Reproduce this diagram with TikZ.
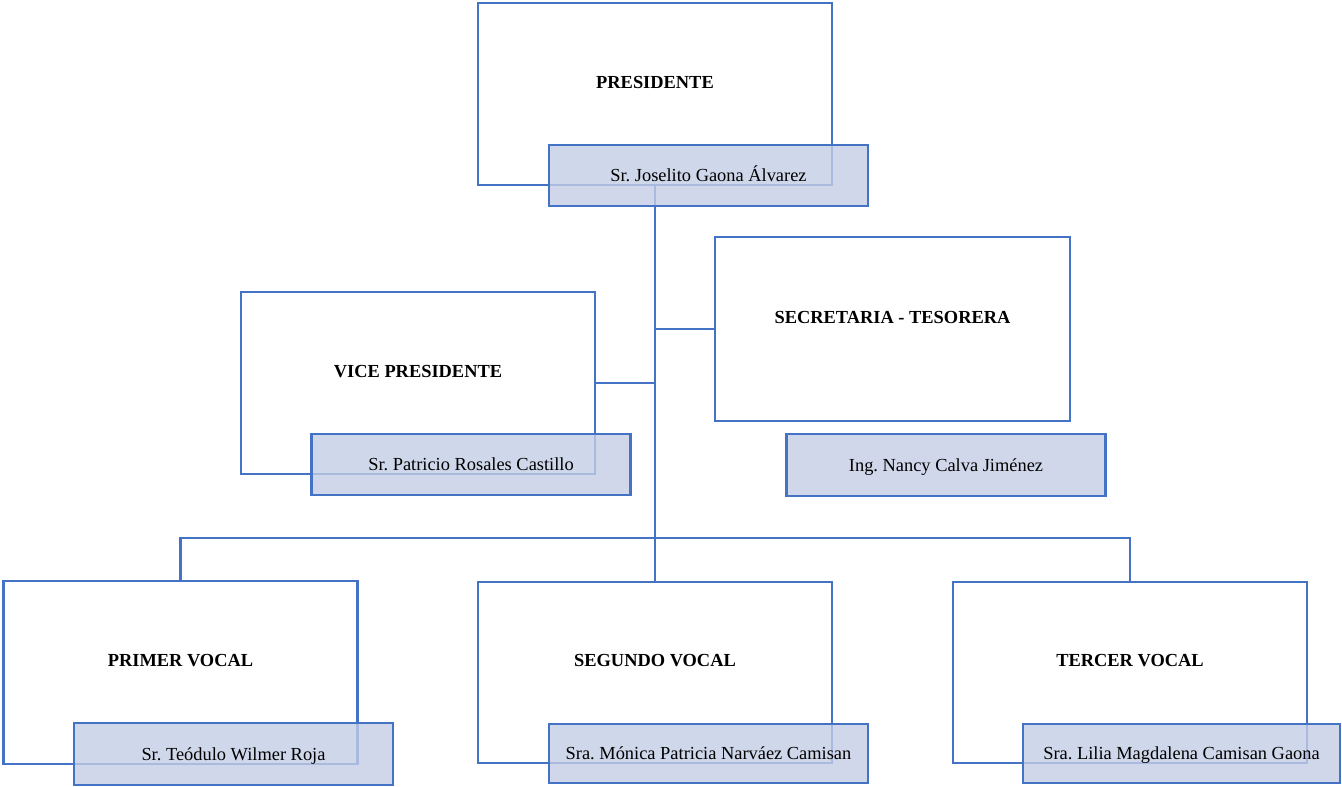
\documentclass[tikz,border=0pt]{standalone}
\usepackage{fontspec}
\setmainfont{Liberation Serif}
\frenchspacing
\newdimen\pxu \pxu=0.75pt
\definecolor{ln}{HTML}{4472C4}
\definecolor{nf}{HTML}{C4CDE5}
\tikzset{
  outerbox/.style={draw=ln, line width=1.8pt, fill=white, minimum width=354\pxu, minimum height=182\pxu, inner sep=0pt, outer sep=0pt},
  namebox/.style={draw=ln, line width=2.1pt, fill=nf, fill opacity=0.8, text opacity=1, draw opacity=1, minimum width=319\pxu, minimum height=61\pxu, inner sep=0pt, outer sep=0pt, text height=0.95em, text depth=0pt, font=\fontsize{13.8}{16}\selectfont},
  titletext/.style={inner sep=0pt, text height=0.66em, text depth=0pt, font=\fontsize{13.8}{16}\selectfont\bfseries},
  conn/.style={draw=ln, line width=1.8pt}
}
\begin{document}
\begin{tikzpicture}[x=0.75pt, y=-0.75pt]
\useasboundingbox (0,0) rectangle (1342,787);
% outer boxes
\node[outerbox] (pres) at (655,94) {};
\node[outerbox] (vp) at (418,383) {};
\node[outerbox, minimum height=184\pxu, minimum width=355\pxu] (sec) at (892.5,329) {};
\node[outerbox, minimum height=183\pxu] (pv) at (180.5,672.5) {};
\node[outerbox, minimum height=181\pxu] (sv) at (655,672.5) {};
\node[outerbox, minimum height=181\pxu] (tv) at (1130,672.5) {};
% titles
\node[titletext] (presT) at ([yshift=7.5pt]pres.center) {PRESIDENTE};
\node[titletext] (vpT) at ([yshift=7.5pt]vp.center) {VICE PRESIDENTE};
\node[titletext] (secT) at ([yshift=7.5pt]sec.center) {SECRETARIA - TESORERA};
\node[titletext] (pvT) at ([yshift=7.5pt]pv.center) {PRIMER VOCAL};
\node[titletext] (svT) at ([yshift=7.5pt]sv.center) {SEGUNDO VOCAL};
\node[titletext] (tvT) at ([yshift=7.5pt]tv.center) {TERCER VOCAL};
% connectors
\coordinate (bus) at (655,538);
\draw[conn] (pres.south) -- (sv.north);
\draw[conn] (pv.north) |- (bus) -| (tv.north);
\draw[conn] (vp.east) -- (vp.east -| pres.south);
\draw[conn] (sec.west) -- (sec.west -| pres.south);
% name boxes
\node[namebox] (presN) at (708.5,175.5) {Sr. Joselito Gaona Álvarez};
\node[namebox] (vpN) at (471,464.5) {Sr. Patricio Rosales Castillo};
\node[namebox, minimum height=62\pxu] (secN) at (946,465) {Ing. Nancy Calva Jiménez};
\node[namebox, minimum height=62\pxu] (pvN) at (233.5,754) {Sr. Teódulo Wilmer Roja};
\node[namebox, minimum height=59\pxu] (svN) at (708.5,753.5) {Sra. Mónica Patricia Narváez Camisan};
\node[namebox, minimum height=59\pxu, minimum width=317\pxu] (tvN) at (1181.5,753.5) {Sra. Lilia Magdalena Camisan Gaona};
\end{tikzpicture}
\end{document}
